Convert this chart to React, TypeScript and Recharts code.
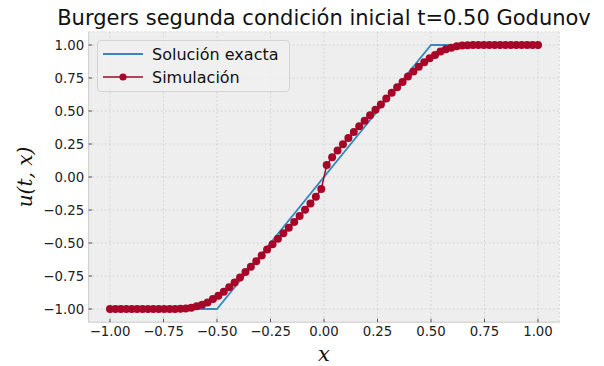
import { LineChart, Line, XAxis, YAxis, CartesianGrid } from 'recharts';

// exact solution: rarefaction between x=-0.5 and x=0.5 at t=0.5
const exactX = [-1, -0.5, 0.5, 1];
const exactU = [-1, -1, 1, 1];

// Godunov cell values, 80 points on [-1, 1]
const simX = [
  -1.0, -0.9747, -0.9494, -0.9241, -0.8987, -0.8734, -0.8481, -0.8228, -0.7975, -0.7722,
  -0.7468, -0.7215, -0.6962, -0.6709, -0.6456, -0.6203, -0.5949, -0.5696, -0.5443, -0.519,
  -0.4937, -0.4684, -0.443, -0.4177, -0.3924, -0.3671, -0.3418, -0.3165, -0.2911, -0.2658,
  -0.2405, -0.2152, -0.1899, -0.1646, -0.1392, -0.1139, -0.0886, -0.0633, -0.038, -0.0127,
  0.0127, 0.038, 0.0633, 0.0886, 0.1139, 0.1392, 0.1646, 0.1899, 0.2152, 0.2405,
  0.2658, 0.2911, 0.3165, 0.3418, 0.3671, 0.3924, 0.4177, 0.443, 0.4684, 0.4937,
  0.519, 0.5443, 0.5696, 0.5949, 0.6203, 0.6456, 0.6709, 0.6962, 0.7215, 0.7468,
  0.7722, 0.7975, 0.8228, 0.8481, 0.8734, 0.8987, 0.9241, 0.9494, 0.9747, 1.0,
];
const simU = [
  -1, -1, -1, -1, -1, -1, -1, -1, -1, -1,
  -1, -1, -1, -0.999, -0.996, -0.99, -0.98, -0.968, -0.95, -0.925,
  -0.9, -0.87, -0.835, -0.8, -0.762, -0.72, -0.68, -0.638, -0.595, -0.55,
  -0.51, -0.467, -0.427, -0.385, -0.34, -0.295, -0.248, -0.2, -0.15, -0.09,
  0.09, 0.15, 0.2, 0.248, 0.295, 0.34, 0.385, 0.427, 0.467, 0.51,
  0.55, 0.595, 0.638, 0.68, 0.72, 0.762, 0.8, 0.835, 0.87, 0.9,
  0.925, 0.95, 0.968, 0.98, 0.99, 0.996, 0.999, 1, 1, 1,
  1, 1, 1, 1, 1, 1, 1, 1, 1, 1,
];

const ticks = [-1, -0.75, -0.5, -0.25, 0, 0.25, 0.5, 0.75, 1];

const exactData = exactX.map((x, i) => ({ x, u: exactU[i] }));
const simData = simX.map((x, i) => ({ x, u: simU[i] }));

const BLUE = '#348ABD';
const RED = '#A60628';
const FONT = '"DejaVu Sans", sans-serif';

const fmt = (v: number) => v.toFixed(2).replace('-', '\u2212');

function XTick({ x, y, payload }: any) {
  return (
    <g>
      <line x1={x} x2={x} y1={y} y2={y - 3.5} stroke="#333" strokeWidth={0.8} />
      <text x={x} y={y + 14} textAnchor="middle" fontSize={13.3} fill="#222" fontFamily={FONT}>
        {fmt(payload.value)}
      </text>
    </g>
  );
}

function YTick({ x, y, payload }: any) {
  return (
    <g>
      <line x1={x} x2={x + 3.5} y1={y} y2={y} stroke="#333" strokeWidth={0.8} />
      <text x={x - 4.5} y={y} dy="0.35em" textAnchor="end" fontSize={13.3} fill="#222" fontFamily={FONT}>
        {fmt(payload.value)}
      </text>
    </g>
  );
}

export default function App() {
  return (
    <div style={{ position: 'absolute', left: 0, top: 0, width: 604, height: 366, background: '#fff', fontFamily: FONT }}>
      <LineChart
        width={604}
        height={366}
        margin={{ top: 31.8, right: 44.6, bottom: 13.8, left: 28.6 }}
      >
        <CartesianGrid fill="#eeeeee" stroke="#c4c4c4" strokeDasharray="2 2" strokeWidth={0.6} />
        <XAxis
          dataKey="x"
          type="number"
          domain={[-1.1, 1.1]}
          ticks={ticks}
          height={30}
          tickSize={0}
          tickMargin={0}
          axisLine={{ stroke: '#d0d0d0' }}
          tick={XTick}
          allowDataOverflow
        />
        <YAxis
          dataKey="u"
          type="number"
          domain={[-1.1, 1.1]}
          ticks={ticks}
          width={60}
          tickSize={0}
          tickMargin={0}
          axisLine={{ stroke: '#d0d0d0' }}
          tick={YTick}
          allowDataOverflow
        />
        <Line
          data={exactData}
          dataKey="u"
          type="linear"
          stroke={BLUE}
          strokeWidth={1.8}
          dot={false}
          activeDot={false}
          isAnimationActive={false}
        />
        <Line
          data={simData}
          dataKey="u"
          type="linear"
          stroke={RED}
          strokeWidth={1.5}
          dot={{ r: 4, fill: RED, stroke: RED, strokeWidth: 0 }}
          activeDot={false}
          isAnimationActive={false}
        />
      </LineChart>

      <div style={{ position: 'absolute', left: 24, top: 4, width: 600, textAlign: 'center', fontSize: 21, lineHeight: '28px', color: '#111' }}>
        Burgers segunda condición inicial t=0.50 Godunov
      </div>

      <div style={{ position: 'absolute', left: 24, top: 341, width: 600, textAlign: 'center', fontSize: 21, lineHeight: '26px', fontFamily: '"DejaVu Serif", serif', fontStyle: 'italic', color: '#111' }}>
        x
      </div>
      <div
        style={{
          position: 'absolute', left: 25, top: 177, width: 100, marginLeft: -50, marginTop: -13,
          textAlign: 'center', fontSize: 20, lineHeight: '26px', transform: 'rotate(-90deg)',
          fontFamily: '"DejaVu Serif", serif', fontStyle: 'italic', color: '#111',
        }}
      >
        u(t, x)
      </div>

      <div
        style={{
          position: 'absolute', left: 97, top: 40, width: 193, height: 52, boxSizing: 'border-box',
          border: '1px solid #d4d4d4', borderRadius: 4, background: 'rgba(240,240,240,0.85)',
        }}
      >
        <svg width={193} height={52} style={{ position: 'absolute', left: -1, top: -1 }}>
          <line x1={6} x2={46} y1={14} y2={14} stroke={BLUE} strokeWidth={1.8} />
          <line x1={6} x2={46} y1={37} y2={37} stroke={RED} strokeWidth={1.5} />
          <circle cx={26} cy={37} r={3.6} fill={RED} />
          <text x={55} y={14} dy="0.35em" fontSize={16} fill="#111" fontFamily={FONT}>Solución exacta</text>
          <text x={55} y={37} dy="0.35em" fontSize={16} fill="#111" fontFamily={FONT}>Simulación</text>
        </svg>
      </div>
    </div>
  );
}
